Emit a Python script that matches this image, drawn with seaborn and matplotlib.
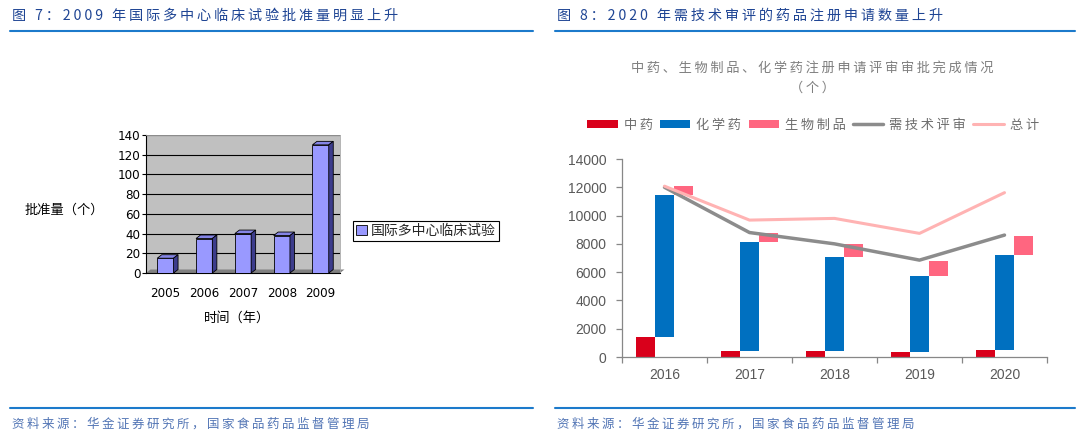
import numpy as np
import pandas as pd
import matplotlib
matplotlib.use('Agg')
import matplotlib.pyplot as plt
import seaborn as sns
from matplotlib.patches import Polygon, Patch
from matplotlib.lines import Line2D
from matplotlib import font_manager

# ---------------- data ----------------
left_years = ['2005', '2006', '2007', '2008', '2009']
left_approvals = [15, 35, 40, 38, 130]
left_series = '国际多中心临床试验'
left_yticks = [0, 20, 40, 60, 80, 100, 120, 140]

right_years = ['2016', '2017', '2018', '2019', '2020']
series_names = ['中药', '化学药', '生物制品']
tcm = [1390, 400, 420, 330, 470]
chem = [10040, 7700, 6620, 5410, 6750]
bio = [640, 640, 940, 1080, 1370]
tech_review = [12000, 8800, 8000, 6850, 8620]
total = [12080, 9680, 9800, 8740, 11620]
right_yticks = [0, 2000, 4000, 6000, 8000, 10000, 12000, 14000]

title_left = '图 7：2009 年国际多中心临床试验批准量明显上升'
title_right = '图 8：2020 年需技术审评的药品注册申请数量上升'
chart_title = '中药、生物制品、化学药注册申请评审审批完成情况'
source = '资料来源：华金证券研究所，国家食品药品监督管理局'

# ---------------- style ----------------
sns.set_theme(style='white')
CJK = ['Noto Sans CJK SC', 'DejaVu Sans']
plt.rcParams['font.family'] = CJK
plt.rcParams['axes.unicode_minus'] = False

_names = {f.name for f in font_manager.fontManager.ttflist}
NARROW = 'Liberation Sans Narrow' if 'Liberation Sans Narrow' in _names else 'DejaVu Sans'
ARIAL = 'Liberation Sans' if 'Liberation Sans' in _names else 'DejaVu Sans'

W, H = 1080, 436
fig = plt.figure(figsize=(W / 100, H / 100), dpi=100)


def fx(px):
    return px / W


def fy(py):
    return 1 - py / H


TS = '\u2009'


def sp(s):
    return TS.join(s)


TITLE_C = '#1F4594'
LINE_C = '#1C7ACB'
SRC_C = '#5275B5'

# titles and rules
fig.text(fx(12), fy(16), sp(title_left), color=TITLE_C, fontsize=10.2, va='center', ha='left')
fig.text(fx(557), fy(16), sp(title_right), color=TITLE_C, fontsize=10.2, va='center', ha='left')
for x0, x1 in [(10, 533), (555, 1075)]:
    fig.add_artist(Line2D([fx(x0), fx(x1)], [fy(31), fy(31)], transform=fig.transFigure,
                          color=LINE_C, lw=1.5))
    fig.add_artist(Line2D([fx(x0), fx(x1)], [fy(408), fy(408)], transform=fig.transFigure,
                          color=LINE_C, lw=1.5))
fig.text(fx(12), fy(424), sp(source), color=SRC_C, fontsize=9, va='center', ha='left')
fig.text(fx(557), fy(424), sp(source), color=SRC_C, fontsize=9, va='center', ha='left')

# ---------------- left chart (pseudo 3D) ----------------
L_X0, L_X1, L_Y0, L_Y1 = 146, 340, 273, 135
ax1 = fig.add_axes([fx(L_X0), fy(L_Y0), (L_X1 - L_X0) / W, (L_Y0 - L_Y1) / H])
ax1.set_facecolor('#C0C0C0')
sns.barplot(x=left_years, y=left_approvals, color='#9999FF', saturation=1, width=0.42,
            edgecolor='black', linewidth=0.6, ax=ax1, zorder=3, errorbar=None)
ax1.set_xlim(-0.5, 4.5)
ax1.set_ylim(0, 140)
dx = 4.5 / ((L_X1 - L_X0) / 5.0)
dy = 3.5 / ((L_Y0 - L_Y1) / 140.0)
for p in list(ax1.patches):
    x0 = p.get_x()
    x1 = x0 + p.get_width()
    h = p.get_height()
    ax1.add_patch(Polygon([(x0, h), (x1, h), (x1 + dx, h + dy), (x0 + dx, h + dy)],
                          closed=True, fc='#8585E6', ec='black', lw=0.6, zorder=3, clip_on=False))
    ax1.add_patch(Polygon([(x1, 0), (x1 + dx, dy), (x1 + dx, h + dy), (x1, h)],
                          closed=True, fc='#3C3C8C', ec='black', lw=0.6, zorder=3, clip_on=False))
ax1.add_patch(Polygon([(-0.5, 0), (4.5, 0), (4.5 + dx, dy), (-0.5 + dx, dy)], closed=True,
                      fc='#808080', ec='none', zorder=2, clip_on=False))
ax1.yaxis.grid(True, color='black', lw=0.8)
ax1.xaxis.grid(False)
ax1.set_axisbelow(True)
for s in ['left', 'bottom']:
    ax1.spines[s].set_color('black')
    ax1.spines[s].set_linewidth(0.8)
for s in ['top', 'right']:
    ax1.spines[s].set_color('#A8A8A8')
    ax1.spines[s].set_linewidth(0.6)
ax1.set_yticks(left_yticks, labels=[str(v) for v in left_yticks], fontfamily=NARROW,
               fontstretch='condensed')
ax1.set_xticks(range(len(left_years)), labels=left_years, fontfamily=NARROW,
               fontstretch='condensed')
ax1.tick_params(axis='y', left=True, length=3, width=0.8, color='black', pad=1,
                labelsize=9.5, labelcolor='black')
ax1.tick_params(axis='x', bottom=False, pad=4, labelsize=9.5, labelcolor='black')
ax1.set_xlabel('')
ax1.set_ylabel('')

leg1 = fig.legend(handles=[Patch(fc='#9999FF', ec='black', lw=0.6, label=left_series)],
                  loc='center left', bbox_to_anchor=(fx(353), fy(231)), frameon=True,
                  fancybox=False, edgecolor='black', framealpha=1, fontsize=10,
                  handlelength=0.75, handleheight=0.75, handletextpad=0.3, borderpad=0.25,
                  borderaxespad=0)
leg1.get_frame().set_linewidth(0.8)
fig.text(fx(25), fy(210), '批准量（个）', fontsize=9.5, va='center', ha='left', color='black')
fig.text(fx(237), fy(318), '时间（年）', fontsize=9.5, va='center', ha='center', color='black')

# ---------------- right chart (floating stacked bars) ----------------
RED, BLUE, PINK = '#D9001B', '#0070C0', '#FF6680'
GRAY_L, PINK_L = '#8C8C8C', '#FFB3B3'
R_X0, R_X1, R_Y0, R_Y1 = 622, 1047, 357, 159
ax2 = fig.add_axes([fx(R_X0), fy(R_Y0), (R_X1 - R_X0) / W, (R_Y0 - R_Y1) / H])
long = pd.DataFrame({
    'year': right_years * 3,
    'series': [n for n in series_names for _ in right_years],
    'value': tcm + chem + bio,
})
sns.barplot(data=long, x='year', y='value', hue='series', hue_order=series_names,
            palette=[RED, BLUE, PINK], saturation=1, width=0.672, dodge=True,
            legend=False, errorbar=None, linewidth=0, ax=ax2)
bottoms = [
    [0] * len(tcm),
    list(tcm),
    [a + b for a, b in zip(tcm, chem)],
]
for i, cont in enumerate(ax2.containers[:3]):
    for j, bar in enumerate(cont):
        bar.set_y(bottoms[i][j])

xs = np.arange(len(right_years))
sns.lineplot(x=xs, y=tech_review, color=GRAY_L, lw=2.5, ax=ax2, sort=False)
sns.lineplot(x=xs, y=total, color=PINK_L, lw=2.2, ax=ax2, sort=False)

ax2.set_xlim(-0.5, 4.5)
ax2.set_ylim(0, 14000)
for s in ['top', 'right']:
    ax2.spines[s].set_visible(False)
for s in ['left', 'bottom']:
    ax2.spines[s].set_color('#878787')
    ax2.spines[s].set_linewidth(0.9)
ax2.set_yticks(right_yticks, labels=[str(v) for v in right_yticks], fontfamily=ARIAL)
ax2.set_xticks(xs, labels=right_years, fontfamily=ARIAL)
ax2.set_xticks(np.arange(-0.5, 5, 1), minor=True)
ax2.tick_params(axis='x', which='major', bottom=True, length=0, pad=8, labelsize=10,
                labelcolor='#595959')
ax2.tick_params(axis='x', which='minor', bottom=True, length=4, width=0.9, color='#878787')
ax2.tick_params(axis='y', left=True, length=4, width=0.9, color='#878787', pad=7,
                labelsize=10, labelcolor='#595959')
ax2.grid(False)
ax2.set_xlabel('')
ax2.set_ylabel('')

fig.text(fx(812), fy(68), sp(chart_title), color='#7F7F7F', fontsize=9.5, ha='center', va='center')
fig.text(fx(812), fy(88), sp('（个）'), color='#7F7F7F', fontsize=9.5, ha='center', va='center')

handles = [
    Patch(fc=RED, ec='none', label=sp('中药')),
    Patch(fc=BLUE, ec='none', label=sp('化学药')),
    Patch(fc=PINK, ec='none', label=sp('生物制品')),
    Line2D([], [], color=GRAY_L, lw=2.5, label=sp('需技术评审')),
    Line2D([], [], color=PINK_L, lw=2.2, label=sp('总计')),
]
fig.legend(handles=handles, loc='center', bbox_to_anchor=(fx(813), fy(125)), ncol=5,
           frameon=False, fontsize=9.5, handlelength=2.3, handleheight=0.6,
           handletextpad=0.45, columnspacing=0.55, labelcolor='#6E6E6E', borderaxespad=0)

fig.savefig('out.png', dpi=100)
